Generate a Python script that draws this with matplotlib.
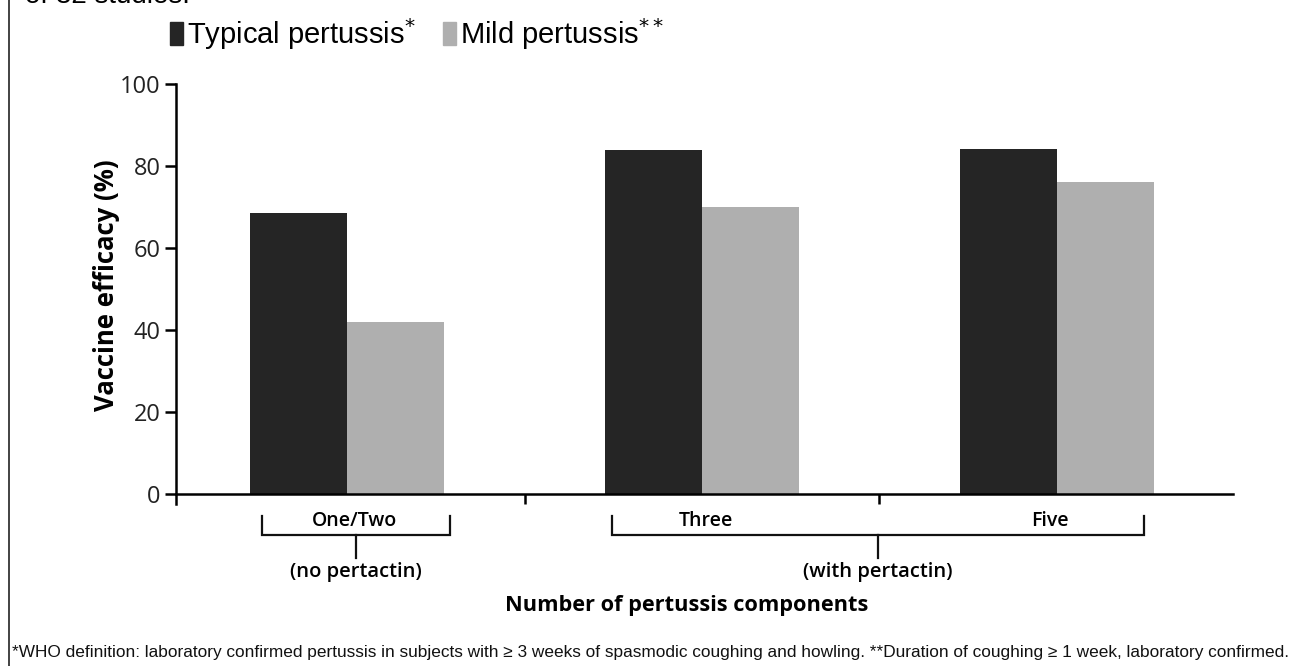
import numpy as np
import matplotlib.pyplot as plt
from matplotlib.patches import Patch
from matplotlib.lines import Line2D

# data
groups = ["One/Two", "Three", "Five"]
typical = [68.5, 83.9, 84.1]
mild = [42.0, 70.0, 76.1]
series_names = ["Typical pertussis$^{*}$", "Mild pertussis$^{**}$"]
sub_labels = ["(no pertactin)", "(with pertactin)"]
yticks = [0, 20, 40, 60, 80, 100]

c_typ = "#252525"
c_mild = "#afafaf"

fig = plt.figure(figsize=(12.98, 6.66), dpi=100)
ax = fig.add_axes([176 / 1298, 1 - 504 / 666, (1233 - 176) / 1298, 420 / 666])

x = np.arange(len(groups))
w = 0.273
ax.bar(x - w / 2, typical, width=w, color=c_typ, zorder=2)
ax.bar(x + w / 2, mild, width=w, color=c_mild, zorder=2)

ax.set_xlim(-0.482, 2.496)
ax.set_ylim(-2.4, 100)
ax.set_yticks(yticks)
ax.set_yticklabels([str(v) for v in yticks], fontsize=17, family="Open Sans", color="#222222")
ax.set_xticks([0.5, 1.5])
ax.set_xticklabels([])
for s in ["top", "right"]:
    ax.spines[s].set_visible(False)
ax.spines["bottom"].set_position(("data", 0))
ax.spines["left"].set_linewidth(1.8)
ax.spines["bottom"].set_linewidth(1.8)
ax.tick_params(axis="y", length=8, width=1.8, pad=3)
ax.tick_params(axis="x", length=7, width=1.8)

# brackets under the axis
tr = ax.get_xaxis_transform()
y_top, y_bot, y_stem = -0.029, -0.074, -0.129
brackets = [(-0.24, 0.29), (0.745, 2.245)]
for (a, b), lab in zip(brackets, sub_labels):
    mid = (a + b) / 2
    ax.plot([a, a, b, b], [y_top, y_bot, y_bot, y_top], color="#111111", lw=1.6,
            transform=tr, clip_on=False, solid_joinstyle="miter")
    ax.plot([mid, mid], [y_bot, y_stem], color="#111111", lw=1.6, transform=tr, clip_on=False)
    ax.text(mid, -0.163, lab, transform=tr, ha="center", va="center", fontsize=14.5,
            family="Open Sans", fontweight="semibold")
for xi, g in zip([0.02, 1.01, 1.98], groups):
    ax.text(xi, -0.04, g, transform=tr, ha="center", va="center", fontsize=14,
            family="Open Sans", fontweight="semibold")

fig.text(687 / 1298, 1 - 605 / 666, "Number of pertussis components", ha="center", va="center",
         fontsize=15.7, family="Open Sans", fontweight="bold")
fig.text(107 / 1298, 1 - 285 / 666, "Vaccine efficacy (%)", rotation=90, ha="center", va="center",
         fontsize=18.5, family="Open Sans", fontweight="bold")

# legend
handles = [Patch(color=c_typ), Patch(color=c_mild)]
leg = fig.legend(handles, series_names, loc="center left", bbox_to_anchor=(170 / 1298, 1 - 34 / 666),
                 ncol=2, frameon=False, prop={"family": "Liberation Sans", "size": 21},
                 handlelength=0.45, handleheight=0.85, handletextpad=0.12, columnspacing=0.95,
                 borderpad=0, borderaxespad=0)

# cut-off text at top and footnote
fig.text(25 / 1298, 1 - 3 / 666, "of 32 studies.", ha="left", va="baseline",
         fontsize=20, family="Liberation Sans")
fig.text(12 / 1298, 1 - 652 / 666,
         "*WHO definition: laboratory confirmed pertussis in subjects with \u2265 3 weeks of spasmodic coughing and howling. "
         "**Duration of coughing \u2265 1 week, laboratory confirmed.",
         ha="left", va="center", fontsize=12.42, family="Liberation Sans", color="#111111")

fig.add_artist(Line2D([8.5 / 1298, 8.5 / 1298], [0, 1], color="#222222", lw=1.2))

fig.savefig("out.png", dpi=100)
